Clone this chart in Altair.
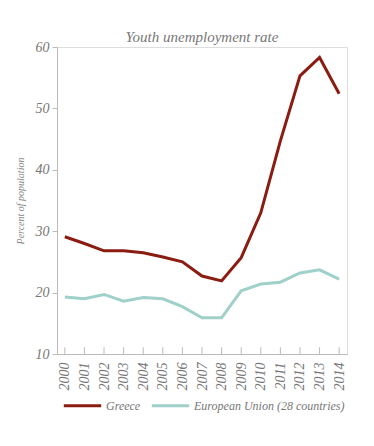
import altair as alt
import pandas as pd

years = list(range(2000, 2015))
greece = [29.1, 28.0, 26.8, 26.8, 26.5, 25.8, 25.0, 22.7, 21.9, 25.7, 33.0, 44.7, 55.3, 58.3, 52.4]
eu28 = [19.3, 19.0, 19.7, 18.6, 19.2, 19.0, 17.7, 15.9, 15.9, 20.3, 21.4, 21.7, 23.2, 23.7, 22.2]
series = ["Greece", "European Union (28 countries)"]
colors = ["#8a1c12", "#9fd0c9"]

rows = []
for name, vals in zip(series, [greece, eu28]):
    for y, v in zip(years, vals):
        rows.append({"year": y, "value": v, "series": name})
df = pd.DataFrame(rows)
ticks_df = pd.DataFrame({"year": years, "y0": [10] * len(years), "y1": [11.1] * len(years)})

FONT = "Liberation Serif"
xscale = alt.Scale(domain=[1999.6, 2014.4], nice=False, zero=False)
yscale = alt.Scale(domain=[10, 60], nice=False, zero=False)

xaxis = alt.Axis(values=years, format="d", title=None, tickSize=0,
                 labelAngle=-90, labelAlign="right", labelBaseline="middle",
                 labelPadding=8, labelFontSize=14, labelFont=FONT,
                 labelFontStyle="italic", labelColor="#777777",
                 labelOverlap=False, domainColor="#bbbbbb", grid=False,
                 labelFlush=False)
yaxis = alt.Axis(values=[10, 20, 30, 40, 50, 60], title="Percent of population",
                 tickSize=5, tickColor="#bbbbbb", domainColor="#bbbbbb",
                 labelPadding=3, labelFontSize=14, labelFont=FONT,
                 labelFontStyle="italic", labelColor="#777777",
                 labelOverlap=False,
                 titleFont=FONT, titleFontStyle="italic", titleFontWeight="normal",
                 titleFontSize=10, titleColor="#888888", titlePadding=10,
                 grid=False)

lines = alt.Chart(df).mark_line(strokeWidth=3, strokeJoin="miter").encode(
    x=alt.X("year:Q", scale=xscale, axis=xaxis),
    y=alt.Y("value:Q", scale=yscale, axis=yaxis),
    color=alt.Color("series:N", sort=series,
                    scale=alt.Scale(domain=series, range=colors),
                    legend=alt.Legend(title=None, orient="none", direction="horizontal",
                                      legendX=5, legendY=338,
                                      symbolType="stroke", symbolSize=1400,
                                      symbolStrokeWidth=3, labelFont=FONT,
                                      labelFontStyle="italic", labelFontSize=12,
                                      labelColor="#777777", columnPadding=4,
                                      labelOffset=3, labelLimit=0)),
)

tickmarks = alt.Chart(ticks_df).mark_rule(color="#bbbbbb", strokeWidth=1).encode(
    x=alt.X("year:Q", scale=xscale, axis=xaxis),
    y=alt.Y("y0:Q", scale=yscale, axis=yaxis),
    y2="y1:Q",
)

chart = alt.layer(lines, tickmarks).properties(
    width=290, height=307,
    autosize=alt.AutoSizeParams(type="none"),
    padding={"left": 49, "top": 39, "right": 19, "bottom": 76},
    title=alt.Title("Youth unemployment rate", font=FONT, fontStyle="italic",
                    fontWeight="normal", fontSize=15, color="#777777",
                    anchor="middle", offset=-5),
).configure_view(strokeWidth=0, stroke="transparent").configure(
    background="white",
    axis=alt.AxisConfig(labelFont=FONT, titleFont=FONT, labelFontStyle="italic"),
    legend=alt.LegendConfig(labelFont=FONT),
)

chart.save("out.html", embed_options={"renderer": "svg", "actions": False})
